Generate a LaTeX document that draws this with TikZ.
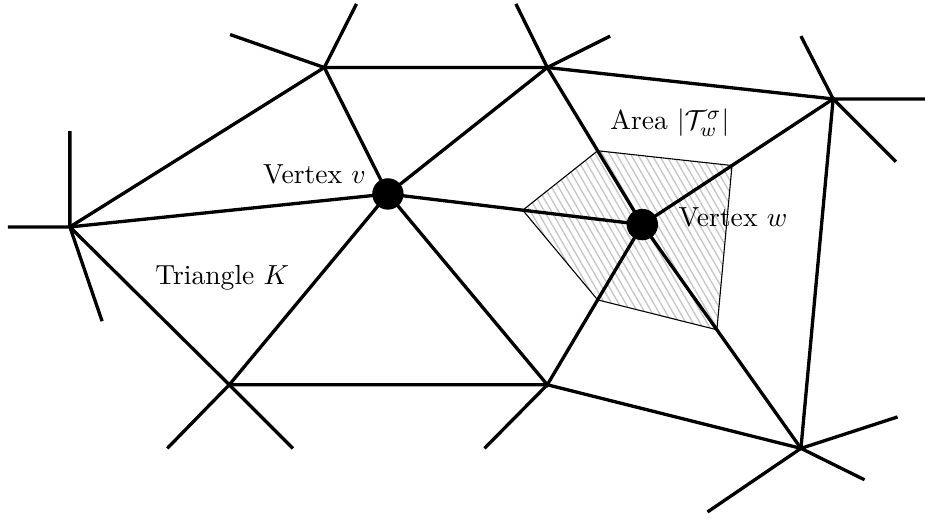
\documentclass[tikz,border=0pt]{standalone}
\usetikzlibrary{calc,patterns.meta}
\begin{document}
\begin{tikzpicture}[line width=1.2pt, lbl/.style={inner sep=0pt}]
\useasboundingbox(0,0) rectangle (11.78,6.61);
\coordinate(A) at (0.89,3.72);
\coordinate(B) at (4.13,5.75);
\coordinate(C) at (6.97,5.75);
\coordinate(D) at (10.61,5.35);
\coordinate(v) at (4.94,4.14);
\coordinate(w) at (8.18,3.75);
\coordinate(E) at (2.92,1.71);
\coordinate(F) at (6.97,1.71);
\coordinate(G) at (10.20,0.90);
% dual cell of w
\draw[line width=.4pt, pattern={Lines[angle=-60,distance=2.2pt,line width=.5pt]}, pattern color=black!22]
  ($(w)!.47!(v)$)--($(w)!.47!(C)$)--($(w)!.47!(D)$)--($(w)!.47!(G)$)--($(w)!.47!(F)$)--cycle;
\draw(A)--(B)--(C)--(D)--(G)--(F)--(E)--cycle;
\draw(A)--(v)--(w)--(D);
\draw(B)--(v)--(C)--(w)--(G);
\draw(E)--(v)--(F)--(w);
\draw(A)--+(0,1.22) (A)--+(-.79,0) (A)--+(.41,-1.2);
\draw(B)--+(-1.2,.42) (B)--+(.41,.81);
\draw(C)--+(-.4,.81) (C)--+(.8,.4);
\draw(D)--+(-.41,.8) (D)--+(1.17,0) (D)--+(.8,-.8);
\draw(E)--+(-.79,-.81) (E)--+(.81,-.81);
\draw(F)--+(-.8,-.81);
\draw(G)--+(-1.19,-.81) (G)--+(.81,-.4) (G)--+(1.23,.4);
\fill(v)circle(.2) (w)circle(.2);
\node[lbl, anchor=base east](lv) at (4.68,4.27) {Vertex $v$};
\node[lbl, anchor=base west](lw) at (8.62,3.73) {Vertex $w$};
\node[lbl, anchor=base](la) at (8.53,4.96) {Area $|\mathcal{T}_w^\sigma|$};
\node[lbl, anchor=base](lk) at (2.83,2.99) {Triangle $K$};
\end{tikzpicture}
\end{document}
